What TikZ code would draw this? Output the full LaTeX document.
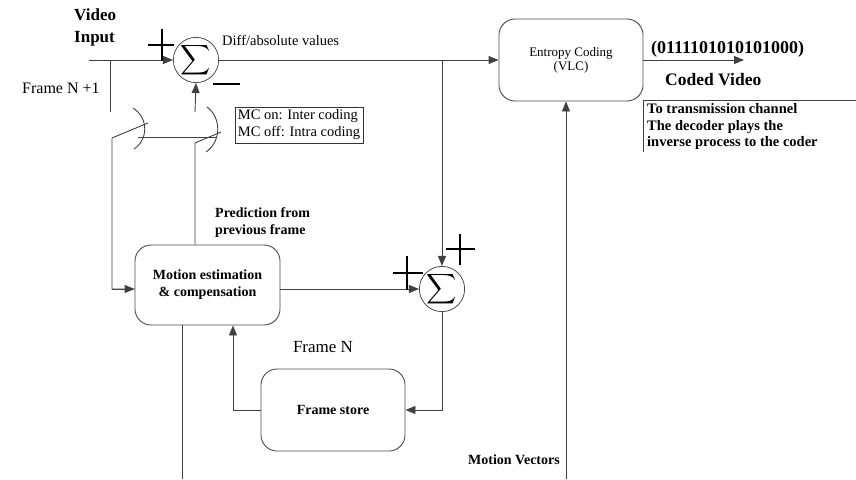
\documentclass[tikz,border=0pt]{standalone}
\usepackage{fontspec}
\usepackage{graphicx}
\setmainfont{Liberation Serif}
\usetikzlibrary{arrows.meta,calc}
\begin{document}
\begin{tikzpicture}[x=1pt,y=-1pt,
  wire/.style={draw=black!75,line width=0.9pt},
  arr/.style={wire,-{Triangle[length=10pt,width=8pt]}},
  sym/.style={draw=black,line width=2.4pt},
  rbox/.style={draw=black!70,line width=0.9pt,rounded corners=16pt,align=center,inner sep=0pt},
  sumnode/.style={circle,draw=black!70,line width=0.8pt,minimum size=40pt,inner sep=0pt},
  lbl/.style={inner sep=0pt,align=left}]
\useasboundingbox (0,0) rectangle (856,479);

% nodes
\node[sumnode] (S1) at (196,60) {\scalebox{2.1}{$\displaystyle\sum$}};
\node[sumnode] (S2) at (442,289) {\scalebox{2.1}{$\displaystyle\sum$}};
\node[rbox,minimum width=145pt,minimum height=80pt,font=\bfseries\fontsize{14}{17}\selectfont] (ME) at (207.5,285) {Motion estimation\\\& compensation};
\node[rbox,minimum width=144pt,minimum height=82pt,font=\bfseries\fontsize{14}{17}\selectfont] (FS) at (333,410) {Frame store};
\node[rbox,minimum width=144pt,minimum height=82pt,font=\fontsize{13}{14}\selectfont] (EC) at (571,60) {Entropy Coding\\(VLC)};
\node[draw=black!80,line width=0.8pt,align=left,inner sep=3pt,font=\fontsize{14.5}{17}\selectfont] (MC) at (299,125) {MC on: Inter coding\\MC off: Intra coding};

% texts
\node[lbl,anchor=west,font=\bfseries\fontsize{17}{22}\selectfont] (vi) at (74,27) {Video\\Input};
\node[lbl,anchor=west,font=\fontsize{16}{16}\selectfont] (fn1) at (22,88) {Frame N +1};
\node[lbl,anchor=west,font=\fontsize{14.5}{16}\selectfont] (dv) at (222,40) {Diff/absolute values};
\node[lbl,anchor=west,font=\bfseries\fontsize{14}{17}\selectfont] (pf) at (215,223) {Prediction from\\previous frame};
\node[lbl,font=\fontsize{17}{17}\selectfont] (fn) at (323,347) {Frame N};
\node[lbl,anchor=east,font=\bfseries\fontsize{14}{14}\selectfont] (mv) at (560,460) {Motion Vectors};
\node[lbl,anchor=west,font=\bfseries\fontsize{18}{18}\selectfont] (bits) at (651,49) {(0111101010101000)};
\node[lbl,anchor=west,font=\bfseries\fontsize{17.5}{18}\selectfont] (cv) at (665,80) {Coded Video};
\node[lbl,anchor=west,font=\bfseries\fontsize{14.5}{16.5}\selectfont] (tx) at (647,127) {To transmission channel\\The decoder plays the\\inverse process to the coder};

% coordinates
\coordinate (vin) at (89,60);
\coordinate (jL) at (110,60);
\coordinate (cL) at (110,112);
\coordinate (pL) at (112,138);
\coordinate (tL) at (148,123);
\coordinate (cR) at (195,112);
\coordinate (pR) at (195,143);
\coordinate (tR) at (221,132);
\coordinate (out) at (744,60);
\coordinate (mvb) at (566,479);
\coordinate (meb) at (182,479);

% connectors
\draw[arr] (vin) -- (S1.west);
\draw[wire] (jL) -- (cL);
\draw[wire] (tL) -- (pL) |- (ME.west |- S2);
\draw[arr] (pL |- S2) -- (ME.west |- S2);
\draw[wire] (ME.north -| pR) -- (pR) -- (tR);
\draw[arr] (cR) -- (S1.south);
\draw[wire] (138,137) -- (217,137);
\draw[wire] (133,108) .. controls (149,118) and (148,140) .. (134,149);
\draw[wire] (207,107) .. controls (222,118) and (221,142) .. (206,152);
\draw[arr] (S1.east) -- (EC.west);
\draw[arr] (S2 |- S1) -- (S2.north);
\draw[arr] (ME.east |- S2) -- (S2.west);
\draw[arr] (S2.south) |- (FS.east);
\draw[arr] (FS.west) -| ([xshift=25.5pt]ME.south);
\draw[wire] ([xshift=-25.5pt]ME.south) -- (meb);
\draw[arr] (mvb) -- (EC.south -| mvb);
\draw[arr] (EC.east) -- (out);
\draw[wire] (856,100) -- (643,100) -- (643,152);

% plus / minus signs
\draw[sym] (162,29) -- (162,61) (148,45) -- (174,45);
\draw[sym] (213,84) -- (240,84);
\draw[sym] (407,256) -- (407,290) (393,273) -- (423,273);
\draw[sym] (460,234) -- (460,265) (446,249) -- (475,249);
\end{tikzpicture}
\end{document}
